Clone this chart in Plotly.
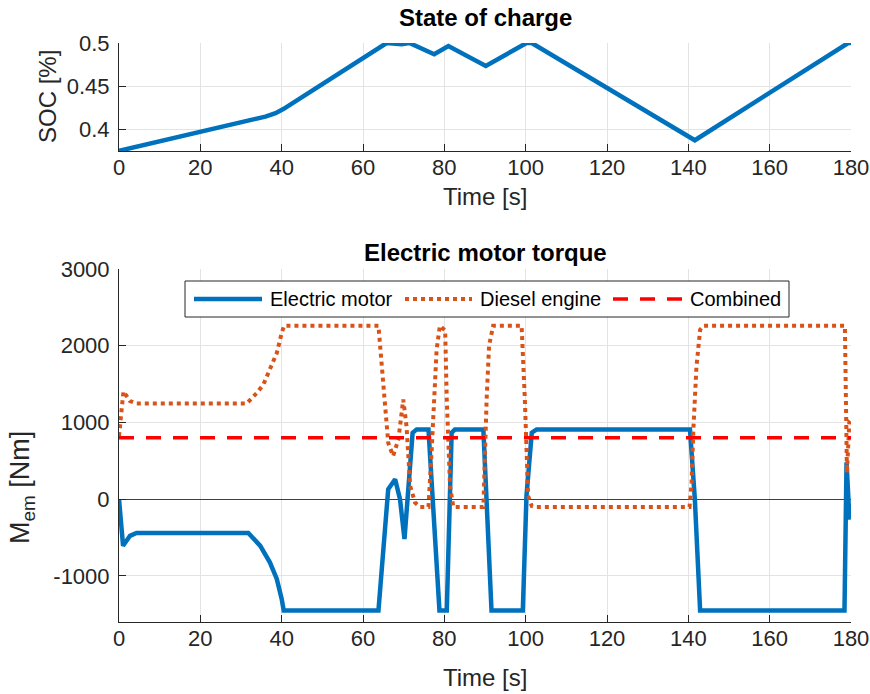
import plotly.graph_objects as go

# ---- State of charge ----
soc_time = [0, 33, 36, 38.5, 40.5, 65.8, 67.5, 69.5, 71.4, 77.5, 81.0, 90.2, 100.2, 101.5, 141.6, 179.3, 180]
soc_value = [0.3747, 0.4100, 0.4145, 0.4185, 0.4235, 0.5, 0.4998, 0.4985, 0.5, 0.4870, 0.4965, 0.4733,
             0.5, 0.5, 0.3870, 0.5, 0.5]

# ---- Torques ----
motor_time = [0, 1.0, 2.7, 4.3, 31.8, 34.7, 37.1, 38.8, 40.0, 40.5, 63.8, 66.2, 67.9, 69.1, 70.2, 71.1,
              72.2, 73.2, 76.1, 78.8, 80.6, 81.8, 82.6, 89.6, 91.6, 99.3, 100.2, 101.5, 102.7, 140.4,
              141.6, 142.9, 178.4, 178.9, 179.6, 180]
motor_torque = [0, -606, -477, -440, -440, -606, -822, -1039, -1299, -1450, -1450, 130, 260, 0, -520, 173,
                866, 910, 910, -1450, -1450, 866, 910, 910, -1450, -1450, 43, 866, 910, 910,
                0, -1450, -1450, 480, -238, -240]

diesel_time = [0, 1.1, 2.7, 4.3, 31.4, 33.9, 35.5, 37.1, 38.8, 40.0, 40.6, 63.8, 64.6, 65.4, 66.2, 67.4,
               68.7, 69.9, 70.7, 71.6, 72.8, 74.0, 76.1, 76.9, 78.1, 78.9, 80.2, 80.6, 81.4, 82.2,
               89.6, 90.4, 91.0, 92.0, 99.0, 99.8, 100.6, 101.5, 102.5, 140.3, 140.8, 141.2, 142.0,
               142.9, 143.7, 178.5, 179.0, 179.6, 180]
diesel_torque = [822, 1406, 1280, 1247, 1247, 1385, 1494, 1688, 1905, 2165, 2260, 2260, 1731, 1169, 736, 563,
                 779, 1299, 952, 173, -43, -100, -100, 650, 1948, 2260, 2200, 1300, 173, -100,
                 -100, 1300, 2000, 2260, 2260, 1300, 43, -90, -100, -100, 216, 866, 1731,
                 2208, 2260, 2260, 346, 1017, 1040]

combined_time = [0, 180]
combined_torque = [800, 800]

time_ticks = [0, 20, 40, 60, 80, 100, 120, 140, 160, 180]
time_labels = ["0", "20", "40", "60", "80", "100", "120", "140", "160", "180"]
soc_ticks = [0.4, 0.45, 0.5]
soc_labels = ["0.4", "0.45", "0.5"]
torque_ticks = [-1000, 0, 1000, 2000, 3000]
torque_labels = ["-1000", "0", "1000", "2000", "3000"]

series_names = ["Electric motor", "Diesel engine", "Combined"]

BLUE = "#0072BD"
ORANGE = "#D95319"
RED = "#FF0000"
AXC = "#262626"
GRID = "#E3E3E3"
FONT = "Liberation Sans, Arial, Helvetica, sans-serif"

W, H = 870, 694
ML, MR, MT, MB = 119, 19, 43, 72
PW, PH = W - ML - MR, H - MT - MB


def px(x):
    return (x - ML) / PW


def py(y):
    return (H - MB - y) / PH


fig = go.Figure()

fig.add_trace(go.Scatter(x=soc_time, y=soc_value, mode="lines", xaxis="x", yaxis="y",
                         line=dict(color=BLUE, width=4.5), cliponaxis=False, showlegend=False))

fig.add_trace(go.Scatter(x=motor_time, y=motor_torque, mode="lines", xaxis="x2", yaxis="y2",
                         name=series_names[0], line=dict(color=BLUE, width=4.5), showlegend=False))
fig.add_trace(go.Scatter(x=diesel_time, y=diesel_torque, mode="lines", xaxis="x2", yaxis="y2",
                         name=series_names[1], line=dict(color=ORANGE, width=4, dash="dot"),
                         showlegend=False))
fig.add_trace(go.Scatter(x=combined_time, y=combined_torque, mode="lines", xaxis="x2", yaxis="y2",
                         name=series_names[2], line=dict(color=RED, width=3.5, dash="15px,12px"),
                         showlegend=False))

axis_common = dict(showgrid=True, gridcolor=GRID, gridwidth=1, ticks="inside", ticklen=7,
                   tickcolor=AXC, tickwidth=1, showline=True, linecolor=AXC, linewidth=1,
                   mirror=False, tickfont=dict(family=FONT, size=22, color=AXC), automargin=False)
x_axis_style = dict(axis_common, ticklabelstandoff=-3)
y_axis_style = dict(axis_common, ticklabelstandoff=4)

top_bottom = py(151)
bot_top = py(269)

fig.update_layout(
    width=W, height=H,
    margin=dict(l=ML, r=MR, t=MT, b=MB, pad=0, autoexpand=False),
    paper_bgcolor="white", plot_bgcolor="white",
    font=dict(family=FONT, color=AXC),
    xaxis=dict(domain=[0, 1], anchor="y", range=[0, 180], tickvals=time_ticks, ticktext=time_labels,
               zeroline=False, **x_axis_style),
    yaxis=dict(domain=[top_bottom, 1], anchor="x", range=[0.3745, 0.5], tickvals=soc_ticks,
               ticktext=soc_labels, zeroline=False, **y_axis_style),
    xaxis2=dict(domain=[0, 1], anchor="y2", range=[0, 180], tickvals=time_ticks, ticktext=time_labels,
                zeroline=False, **x_axis_style),
    yaxis2=dict(domain=[0, bot_top], anchor="x2", range=[-1600, 3000], tickvals=torque_ticks,
                ticktext=torque_labels, zeroline=True, zerolinecolor="#404040", zerolinewidth=1,
                **y_axis_style),
)

annotations = [
    dict(text="<b>State of charge</b>", x=px(485), y=py(18), font=dict(size=24, color="black")),
    dict(text="Time [s]", x=px(485), y=py(196), font=dict(size=24, color=AXC)),
    dict(text="SOC [%]", x=px(47), y=py(97), textangle=-90, font=dict(size=24, color=AXC)),
    dict(text="<b>Electric motor torque</b>", x=px(485), y=py(253), font=dict(size=24, color="black")),
    dict(text="Time [s]", x=px(485), y=py(677), font=dict(size=24, color=AXC)),
    dict(text="M<sub>em</sub> [Nm]", x=px(22), y=py(488), textangle=-90, font=dict(size=27, color=AXC)),
]
for a in annotations:
    a.update(xref="paper", yref="paper", xanchor="center", yanchor="middle", showarrow=False,
             font=dict(family=FONT, **a["font"]))

# Legend box drawn inside the torque axes
leg_y = py(299)
fig.add_shape(type="rect", xref="paper", yref="paper", x0=px(185), x1=px(789), y0=py(317), y1=py(281),
              line=dict(color=AXC, width=1), fillcolor="white", layer="above")
legend_items = [
    (194, 262, 268, dict(color=BLUE, width=4.5)),
    (405, 472, 478, dict(color=ORANGE, width=4, dash="dot")),
    (613, 683, 688, dict(color=RED, width=3.5, dash="15px,12px")),
]
for name, (lx0, lx1, tx, style) in zip(series_names, legend_items):
    fig.add_shape(type="line", xref="paper", yref="paper", x0=px(lx0), x1=px(lx1), y0=leg_y, y1=leg_y,
                  line=style, layer="above")
    annotations.append(dict(text=name, x=px(tx), y=leg_y, xref="paper", yref="paper", xanchor="left",
                            yanchor="middle", showarrow=False,
                            font=dict(family=FONT, size=20, color="black")))

fig.update_layout(annotations=annotations)

fig.write_html("out.html")
